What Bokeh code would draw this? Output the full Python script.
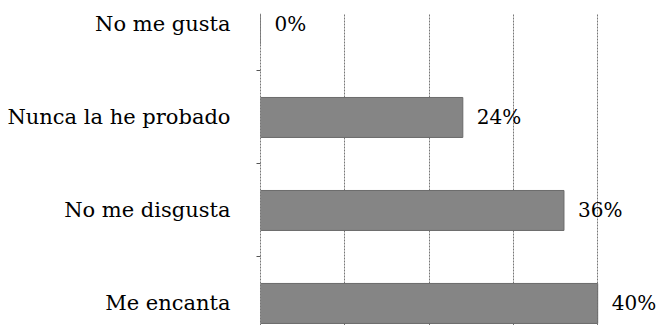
from bokeh.plotting import figure
from bokeh.models import FixedTicker, ColumnDataSource, Range1d
from bokeh.core.properties import value
from bokeh.embed import file_html
from bokeh.resources import INLINE

categories = ["Me encanta", "No me disgusta", "Nunca la he probado", "No me gusta"]
values = [0.40, 0.36, 0.24, 0.0]
value_labels = ["40%", "36%", "24%", "0%"]
grid_ticks = [0.1, 0.2, 0.3, 0.4]

ypos = list(range(len(categories)))
src = ColumnDataSource(dict(y=ypos, v=values, lab=value_labels))

p = figure(width=668, height=325, output_backend="svg", toolbar_location=None,
           x_range=Range1d(0, 0.484), y_range=Range1d(-0.237, 3.118))
p.min_border_left = 260
p.min_border_right = 0
p.min_border_top = 13
p.min_border_bottom = 0
p.outline_line_color = None
p.background_fill_color = "white"

p.hbar(y="y", right="v", left=0, height=0.43, source=src,
       fill_color="#858585", line_color="#6a6a6a", line_width=1)
p.text(x="v", y="y", text="lab", source=src, x_offset=14,
       text_baseline="middle", text_align="left",
       text_font=value("DejaVu Serif"), text_font_size="20px", text_color="#000000")

p.xaxis.visible = False
p.xgrid.ticker = FixedTicker(ticks=grid_ticks)
p.xgrid.grid_line_color = "#777777"
p.xgrid.grid_line_dash = "2 1"
p.xgrid.grid_line_width = 1
p.ygrid.grid_line_color = None

ya = p.yaxis[0]
ya.ticker = FixedTicker(ticks=ypos, minor_ticks=[0.5, 1.5, 2.5])
ya.major_label_overrides = {i: c for i, c in enumerate(categories)}
ya.major_tick_line_color = None
ya.minor_tick_line_color = "#555555"
ya.minor_tick_out = 4
ya.minor_tick_in = 0
ya.axis_line_color = "#777777"
ya.axis_line_dash = "2 1"
ya.major_label_standoff = 24
ya.major_label_text_font = "DejaVu Serif"
ya.major_label_text_font_size = "21px"
ya.major_label_text_color = "#000000"

open("out.html", "w").write(file_html(p, INLINE))
